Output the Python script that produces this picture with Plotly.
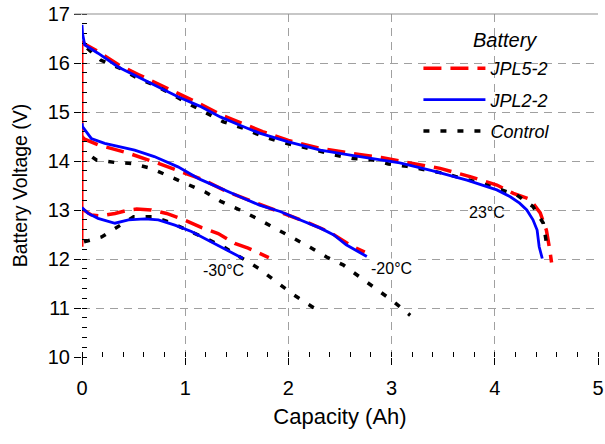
import plotly.graph_objects as go

# ---- data (Capacity in Ah, Voltage in V) ----
# 23 C
x23_jpl5 = [0, 0.03, 0.15, 0.35, 0.55, 0.75, 0.95, 1.15, 1.35, 1.55, 1.75, 2.0, 2.3, 2.6, 2.9, 3.15, 3.47, 3.76, 4.02, 4.18, 4.34, 4.44, 4.50, 4.53, 4.55]
y23_jpl5 = [16.45, 16.38, 16.24, 15.97, 15.76, 15.56, 15.35, 15.16, 14.94, 14.77, 14.60, 14.42, 14.26, 14.16, 14.07, 13.97, 13.85, 13.68, 13.51, 13.34, 13.22, 12.94, 12.59, 12.22, 11.93]
x23_jpl2 = [0, 0.005, 0.026, 0.155, 0.35, 0.54, 0.74, 0.93, 1.14, 1.34, 1.53, 1.72, 2.0, 2.31, 2.6, 2.89, 3.08, 3.40, 3.73, 4.02, 4.15, 4.24, 4.31, 4.37, 4.41, 4.43, 4.46]
y23_jpl2 = [16.78, 16.6, 16.37, 16.2, 15.92, 15.72, 15.52, 15.31, 15.12, 14.90, 14.73, 14.57, 14.39, 14.22, 14.12, 14.02, 13.96, 13.80, 13.61, 13.41, 13.27, 13.14, 13.0, 12.80, 12.59, 12.25, 12.01]
x23_ctrl = [0.05, 0.18, 0.37, 0.54, 0.73, 0.91, 1.06, 1.37, 1.56, 1.74, 1.92, 2.27, 2.45, 2.63, 2.82, 2.97, 3.15, 3.5, 3.86, 4.21, 4.37, 4.47, 4.50]
y23_ctrl = [16.3, 16.06, 15.89, 15.69, 15.52, 15.31, 15.14, 14.80, 14.67, 14.51, 14.39, 14.22, 14.12, 14.05, 14.02, 13.94, 13.89, 13.75, 13.55, 13.31, 13.07, 12.73, 12.33]

# -20 C
xm20_jpl5 = [0, 0.02, 0.155, 0.45, 0.74, 0.99, 1.17, 1.40, 1.6, 1.8, 2.0, 2.2, 2.4, 2.6, 2.74]
ym20_jpl5 = [14.5, 14.45, 14.33, 14.16, 13.95, 13.75, 13.62, 13.38, 13.22, 13.05, 12.9, 12.73, 12.55, 12.28, 12.14]
xm20_jpl2 = [0, 0.005, 0.03, 0.09, 0.22, 0.51, 0.70, 0.93, 1.14, 1.34, 1.53, 1.72, 1.92, 2.11, 2.31, 2.44, 2.56, 2.76]
ym20_jpl2 = [14.77, 14.7, 14.63, 14.46, 14.36, 14.22, 14.09, 13.88, 13.63, 13.44, 13.27, 13.10, 12.97, 12.80, 12.63, 12.49, 12.29, 12.05]
xm20_ctrl = [0.1, 0.14, 0.32, 0.48, 0.67, 0.85, 1.03, 1.19, 1.35, 1.53, 1.71, 1.87, 2.05, 2.21, 2.37, 2.53, 2.70, 2.87, 3.02, 3.18]
ym20_ctrl = [14.08, 14.02, 13.97, 13.95, 13.85, 13.69, 13.53, 13.37, 13.17, 13.0, 12.81, 12.63, 12.44, 12.24, 12.04, 11.88, 11.62, 11.37, 11.13, 10.85]

# -30 C
xm30_jpl5 = [0, 0.09, 0.18, 0.32, 0.45, 0.53, 0.67, 0.82, 0.99, 1.16, 1.32, 1.48, 1.61, 1.81]
ym30_jpl5 = [13.02, 12.90, 12.88, 12.93, 13.0, 13.02, 13.0, 12.93, 12.80, 12.64, 12.52, 12.32, 12.22, 12.03]
xm30_jpl2 = [0, 0.01, 0.06, 0.155, 0.32, 0.45, 0.61, 0.74, 0.90, 1.06, 1.24, 1.40, 1.56]
ym30_jpl2 = [13.05, 13.03, 12.93, 12.83, 12.73, 12.80, 12.82, 12.80, 12.69, 12.56, 12.36, 12.18, 12.01]
xm30_ctrl = [0.02, 0.19, 0.5, 0.69, 0.85, 1.03, 1.2, 1.37, 1.54, 1.71, 1.88, 2.03, 2.19, 2.25]
ym30_ctrl = [12.35, 12.45, 12.86, 12.86, 12.75, 12.59, 12.42, 12.25, 12.03, 11.81, 11.54, 11.30, 11.08, 11.0]

# JPL5-2 initial (open-circuit) voltage step at zero capacity
x_rest = [0, 0]
y_rest = [12.25, 16.45]

temp_labels = ["23°C", "-20°C", "-30°C"]
temp_label_x = [3.92, 3.0, 1.37]
temp_label_y = [12.94, 11.80, 11.76]

FONT = "Liberation Sans, Arial, sans-serif"
RED, BLUE, BLACK = "#ff0000", "#0000ff", "#000000"

fig = go.Figure()

series = [
    ("JPL5-2", RED, "18px,9px", 3.5, 0, [(x23_jpl5, y23_jpl5), (xm20_jpl5, ym20_jpl5), (xm30_jpl5, ym30_jpl5)]),
    ("JPL2-2", BLUE, "solid", 2.8, 2, [(x23_jpl2, y23_jpl2), (xm20_jpl2, ym20_jpl2), (xm30_jpl2, ym30_jpl2)]),
    ("Control", BLACK, "6px,11px", 3.5, 1, [(x23_ctrl, y23_ctrl), (xm20_ctrl, ym20_ctrl), (xm30_ctrl, ym30_ctrl)]),
]

for name, color, dash, width, z, curves in series:
    for i, (xs, ys) in enumerate(curves):
        fig.add_trace(go.Scatter(
            x=xs, y=ys, mode="lines", name=name, legendgroup=name,
            showlegend=(i == 0), zorder=z,
            line=dict(color=color, width=width, dash=dash),
            hoverinfo="skip",
        ))

fig.add_trace(go.Scatter(x=x_rest, y=y_rest, mode="lines", showlegend=False,
                         line=dict(color=RED, width=3), zorder=0, hoverinfo="skip"))

for t, tx, ty in zip(temp_labels, temp_label_x, temp_label_y):
    fig.add_annotation(x=tx, y=ty, text=t, showarrow=False,
                       font=dict(family=FONT, size=16, color="black"),
                       bgcolor="white" if t == "-20°C" else "rgba(0,0,0,0)")

# legend heading
fig.add_annotation(xref="paper", yref="paper", x=0.82, y=0.924, text="Battery",
                   showarrow=False, xanchor="center", yanchor="middle",
                   font=dict(family=FONT, size=20, style="italic", color="black"))

# top border of plot area
fig.add_shape(type="line", xref="paper", yref="paper", x0=-0.015, x1=1, y0=1, y1=1,
              line=dict(color="#909090", width=1.2))

axis_common = dict(
    showline=True, linecolor="black", linewidth=1.2,
    ticks="outside", ticklen=7, tickcolor="black", tickwidth=1,
    showgrid=True, gridcolor="#a0a0a0", gridwidth=1, griddash="8px,6px",
    zeroline=False, automargin=False,
    tickfont=dict(family=FONT, size=20, color="black"),
)

fig.update_xaxes(range=[0, 5], dtick=1, tick0=0, ticklabelstandoff=6,
                 minor=dict(dtick=0.2, ticks="inside", ticklen=5, tickcolor="black", showgrid=False),
                 title=dict(text="Capacity (Ah)", font=dict(family=FONT, size=22, color="black"), standoff=10),
                 **axis_common)
fig.update_yaxes(range=[10, 17], dtick=1, tick0=10,
                 minor=dict(dtick=0.2, ticks="inside", ticklen=5, tickcolor="black", showgrid=False),
                 title=dict(text="Battery Voltage (V)", font=dict(family=FONT, size=19.5, color="black"), standoff=14),
                 **axis_common)

fig.update_layout(
    width=605, height=444,
    margin=dict(l=82, r=7, t=14, b=87, autoexpand=False),
    paper_bgcolor="white", plot_bgcolor="white",
    font=dict(family=FONT, color="black"),
    legend=dict(
        x=0.652, y=0.895, xanchor="left", yanchor="top",
        bgcolor="rgba(255,255,255,0)", borderwidth=0,
        font=dict(family=FONT, size=18, style="italic", color="black"),
        itemwidth=62, tracegroupgap=5, traceorder="grouped",
    ),
)

fig.write_html("out.html", config={"displayModeBar": False},
               post_script="document.body.style.margin='0';document.body.style.padding='0';")
